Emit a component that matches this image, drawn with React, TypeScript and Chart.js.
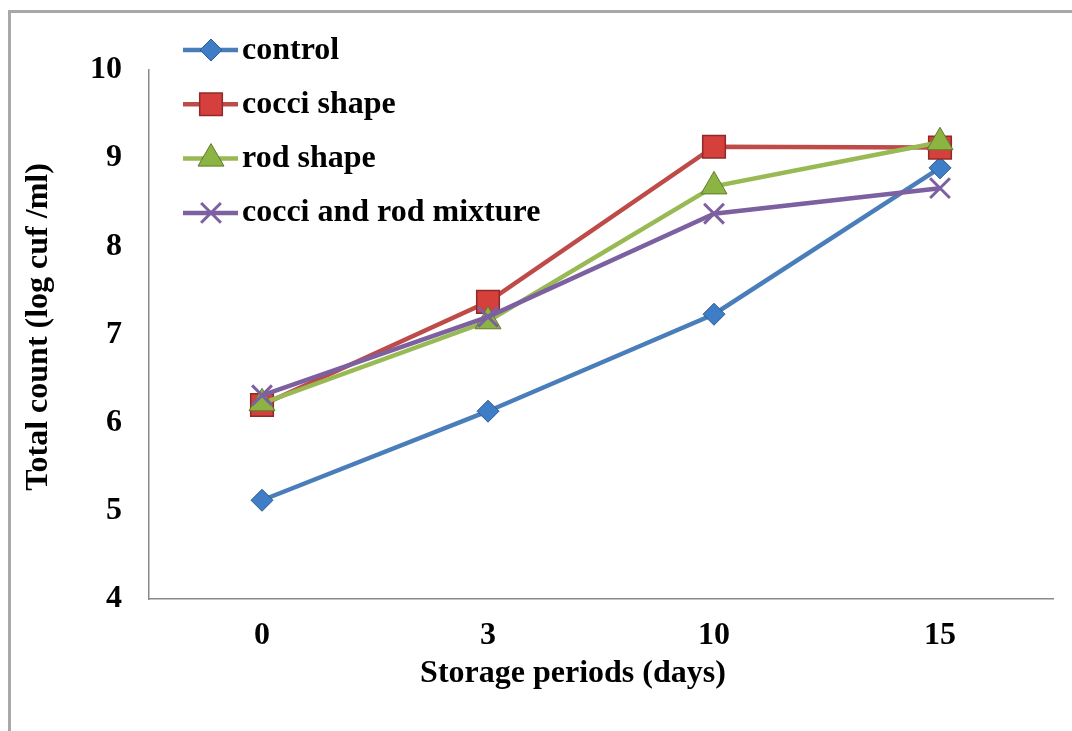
import React, { useEffect, useRef } from 'react';
import { Chart, registerables } from 'chart.js';
import { drawPoint } from 'chart.js/helpers';

Chart.register(...registerables);

const categories = ['0', '3', '10', '15'];
const seriesNames = ['control', 'cocci shape', 'rod shape', 'cocci and rod mixture'];
const control = [5.12, 6.13, 7.23, 8.89];
const cocciShape = [6.2, 7.37, 9.13, 9.12];
const rodShape = [6.22, 7.15, 8.68, 9.18];
const mixture = [6.31, 7.2, 8.37, 8.66];
const yMin = 4;
const yMax = 10;
const yStep = 1;
const xTitle = 'Storage periods (days)';
const yTitle = 'Total count (log cuf /ml)';

const FONT = '"Liberation Serif", "Times New Roman", serif';

const legendPlugin = {
  id: 'excelLegend',
  afterDraw(chart: any) {
    const ctx = chart.ctx;
    ctx.save();
    chart.data.datasets.forEach((ds: any, i: number) => {
      const y = 50 + i * 54.3;
      ctx.strokeStyle = ds.borderColor;
      ctx.lineWidth = ds.borderWidth;
      ctx.beginPath();
      ctx.moveTo(183, y);
      ctx.lineTo(238, y);
      ctx.stroke();
      ctx.fillStyle = ds.pointBackgroundColor;
      ctx.strokeStyle = ds.pointBorderColor;
      ctx.lineWidth = ds.pointBorderWidth;
      drawPoint(ctx, { pointStyle: ds.pointStyle, radius: ds.pointRadius, rotation: 0, borderWidth: ds.pointBorderWidth } as any, 211, y);
      ctx.fillStyle = '#000';
      ctx.font = 'bold 32px ' + FONT;
      ctx.textAlign = 'left';
      ctx.textBaseline = 'alphabetic';
      ctx.fillText(ds.label, 242, y + 8.5);
    });
    ctx.restore();
  },
};

const titlePlugin = {
  id: 'axisTitles',
  afterDraw(chart: any) {
    const ctx = chart.ctx;
    ctx.save();
    ctx.fillStyle = '#000';
    ctx.font = 'bold 32px ' + FONT;
    ctx.textAlign = 'center';
    ctx.textBaseline = 'alphabetic';
    ctx.fillText(xTitle, 573, 682);
    ctx.translate(47, 327);
    ctx.rotate(-Math.PI / 2);
    ctx.fillText(yTitle, 0, 0);
    ctx.restore();
  },
};

export default function App() {
  const ref = useRef<HTMLCanvasElement>(null);
  useEffect(() => {
    if (!ref.current) return;
    const chart = new Chart(ref.current, {
      type: 'line',
      data: {
        labels: categories,
        datasets: [
          {
            label: seriesNames[0],
            data: control,
            order: 4,
            borderColor: '#4A7EBB',
            borderWidth: 4.5,
            pointStyle: 'rectRot',
            pointRadius: 11,
            pointBackgroundColor: '#3F7DC6',
            pointBorderColor: '#2B5C93',
            pointBorderWidth: 1,
            tension: 0,
          },
          {
            label: seriesNames[1],
            data: cocciShape,
            order: 3,
            borderColor: '#BE4B48',
            borderWidth: 4.5,
            pointStyle: 'rect',
            pointRadius: 16,
            pointBackgroundColor: '#D5403D',
            pointBorderColor: '#8E2B29',
            pointBorderWidth: 1.5,
            tension: 0,
          },
          {
            label: seriesNames[2],
            data: rodShape,
            order: 2,
            borderColor: '#98B954',
            borderWidth: 4.5,
            pointStyle: 'triangle',
            pointRadius: 15,
            pointBackgroundColor: '#8CB443',
            pointBorderColor: '#5F7B2B',
            pointBorderWidth: 1,
            tension: 0,
          },
          {
            label: seriesNames[3],
            data: mixture,
            order: 1,
            borderColor: '#7D60A0',
            borderWidth: 4.5,
            pointStyle: 'crossRot',
            pointRadius: 14,
            pointBackgroundColor: '#7D60A0',
            pointBorderColor: '#7D60A0',
            pointBorderWidth: 3,
            tension: 0,
          },
        ],
      },
      options: {
        animation: false,
        responsive: false,
        events: [],
        layout: { padding: { top: 70, right: 19, left: 0, bottom: 0 } },
        plugins: {
          legend: { display: false },
          tooltip: { enabled: false },
          title: { display: false },
        },
        scales: {
          x: {
            type: 'category',
            offset: true,
            grid: { display: false, drawTicks: false },
            border: { display: true, color: '#8A8A8A', width: 1.5 },
            ticks: {
              padding: 18,
              color: '#000',
              font: { family: FONT, size: 32, weight: 'bold' },
            },
            afterFit: (s: any) => {
              s.height = 132;
            },
          },
          y: {
            min: yMin,
            max: yMax,
            grid: { display: false, drawTicks: false },
            border: { display: true, color: '#8A8A8A', width: 1.5 },
            ticks: {
              stepSize: yStep,
              padding: 27,
              color: '#000',
              font: { family: FONT, size: 32, weight: 'bold' },
            },
            afterFit: (s: any) => {
              s.width = 149;
            },
          },
        },
      },
      plugins: [legendPlugin, titlePlugin],
    } as any);
    return () => chart.destroy();
  }, []);

  return (
    <div style={{ position: 'fixed', left: 0, top: 0, width: 1072, height: 731, overflow: 'hidden', background: '#fff' }}>
      <div
        style={{
          position: 'absolute',
          left: 8,
          top: 10,
          right: 0,
          bottom: 0,
          borderTop: '3px solid #a8a8a8',
          borderLeft: '3px solid #a8a8a8',
        }}
      />
      <canvas ref={ref} width={1072} height={731} style={{ position: 'absolute', left: 0, top: 0 }} />
    </div>
  );
}
